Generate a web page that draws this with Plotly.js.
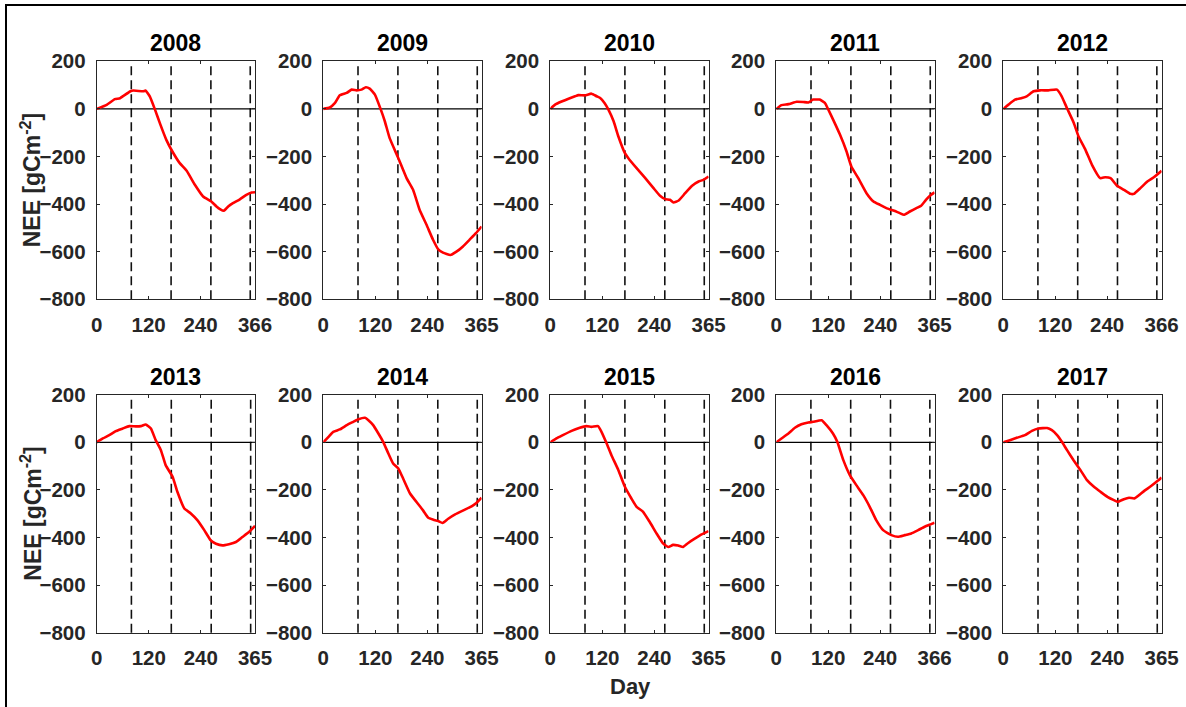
<!DOCTYPE html>
<html>
<head>
<meta charset="utf-8">
<script src="https://cdn.plot.ly/plotly-3.0.1.min.js"></script>
<style>html,body{margin:0;padding:0;background:#fff;}#chart{width:1186px;height:707px;}</style>
</head>
<body>
<div id="chart"></div>
<script>
// ---- Data ----
const years = ['2008','2009','2010','2011','2012','2013','2014','2015','2016','2017'];
const yearLength = [366,365,365,365,366,365,365,365,366,365];
const seasonDays = [80,172,264,355];
const yTicks = [-800,-600,-400,-200,0,200];

const day2008 = [0,23,42,54,77,85,108,113,123,135,146,161,175,192,208,227,246,265,277,285,294,304,315,331,346,358,366];
const nee2008 = [0,17,41,45,73,77,74,77,52,-4,-60,-130,-179,-228,-260,-319,-368,-389,-410,-421,-428,-410,-396,-380,-361,-351,-350];

const day2009 = [0,15,27,38,54,65,77,88,98,107,119,132,142,153,173,192,207,222,238,253,265,276,293,307,322,337,352,365];
const nee2009 = [0,6,25,57,67,81,78,81,91,85,60,0,-53,-123,-207,-291,-340,-424,-487,-550,-590,-604,-614,-600,-578,-550,-522,-494];

const day2010 = [0,11,26,42,57,65,80,95,107,115,125,134,146,157,172,180,199,219,238,253,265,276,284,296,311,327,342,353,365];
const nee2010 = [0,18,31,43,53,58,57,64,53,46,25,-3,-52,-116,-186,-207,-249,-291,-333,-365,-379,-382,-393,-385,-354,-323,-305,-298,-284];

const day2011 = [0,12,28,47,62,74,85,100,112,120,131,147,162,173,189,208,224,239,254,270,285,294,308,323,334,345,357,365];
const nee2011 = [0,16,20,30,29,27,39,39,25,-3,-45,-109,-179,-242,-291,-354,-389,-403,-417,-427,-438,-445,-431,-417,-407,-382,-361,-351];

const day2012 = [0,12,27,43,54,70,85,104,124,135,147,163,174,190,205,224,236,248,263,279,294,302,317,333,348,366];
const nee2012 = [0,18,39,46,53,74,78,78,81,53,4,-59,-116,-172,-235,-291,-287,-291,-323,-340,-357,-357,-333,-305,-287,-260];

const day2013 = [0,14,29,44,60,75,90,102,113,125,136,148,159,175,186,202,217,232,248,263,275,290,305,321,336,351,365];
const nee2013 = [0,16,30,47,58,68,67,68,75,58,9,-33,-96,-145,-208,-278,-299,-327,-369,-412,-426,-433,-428,-419,-398,-377,-351];

const day2014 = [0,12,23,38,54,69,81,96,104,115,127,138,150,161,173,184,200,215,230,242,254,265,275,288,304,323,342,353,365];
const nee2014 = [0,23,44,54,72,86,97,103,93,72,37,2,-47,-89,-110,-152,-215,-251,-286,-317,-325,-331,-339,-321,-303,-286,-269,-255,-233];

const day2015 = [0,14,29,49,68,83,95,110,118,130,141,157,172,187,199,214,229,245,260,272,283,295,306,318,333,349,365];
const nee2015 = [0,16,30,48,61,68,65,68,44,-5,-54,-117,-187,-236,-271,-292,-334,-383,-425,-440,-431,-434,-440,-423,-405,-387,-373];

const day2016 = [0,12,28,43,58,74,85,105,116,131,141,155,170,185,201,216,231,247,266,281,297,312,328,343,358,366];
const nee2016 = [0,16,37,61,76,83,86,93,72,37,2,-75,-138,-180,-222,-271,-327,-369,-390,-397,-390,-383,-369,-355,-344,-338];

const day2017 = [0,15,31,50,66,81,101,112,124,135,147,162,178,193,209,224,240,255,264,278,290,302,313,325,340,356,365];
const nee2017 = [0,9,19,30,48,58,60,51,30,2,-33,-75,-117,-159,-187,-208,-229,-243,-250,-239,-233,-236,-222,-204,-185,-162,-148];

const days = [day2008,day2009,day2010,day2011,day2012,day2013,day2014,day2015,day2016,day2017];
const nees = [nee2008,nee2009,nee2010,nee2011,nee2012,nee2013,nee2014,nee2015,nee2016,nee2017];

// ---- Layout geometry (pixels) ----
const W = 1186, H = 707;
const colLeft = [96.7, 323.3, 550.3, 776.3, 1003.3];
const colW = 158.3;
const rowTop = [61.3, 394.7];
const rowH = 238;
const px = v => v / W;
const py = v => 1 - v / H;

const FONT = 'Liberation Sans, Arial, Helvetica, sans-serif';
const AX = '#262626';

const traces = [];
const layout = {
  width: W, height: H,
  margin: {l:0, r:0, t:0, b:0},
  paper_bgcolor: '#ffffff',
  plot_bgcolor: '#ffffff',
  showlegend: false,
  font: {family: FONT, color: AX, size: 20, weight: 'bold'},
  shapes: [],
  annotations: []
};

years.forEach((yr, i) => {
  const r = Math.floor(i / 5), c = i % 5;
  const n = i + 1;
  const xa = n === 1 ? 'xaxis' : 'xaxis' + n;
  const ya = n === 1 ? 'yaxis' : 'yaxis' + n;
  const xr = n === 1 ? 'x' : 'x' + n;
  const yr_ = n === 1 ? 'y' : 'y' + n;
  const L = yearLength[i];

  layout[xa] = {
    domain: [px(colLeft[c]), px(colLeft[c] + colW)],
    anchor: yr_,
    range: [0, L],
    tickvals: [0, 120, 240, L],
    ticktext: ['0', '120', '240', String(L)],
    ticks: 'inside', ticklen: 3, tickwidth: 1, tickcolor: AX,
    showline: true, linecolor: AX, linewidth: 1, mirror: 'ticks',
    showgrid: false, zeroline: false,
    ticklabelstandoff: 7,
    tickfont: {family: FONT, size: 20.5, color: AX, weight: 'bold'},
    fixedrange: true
  };
  layout[ya] = {
    domain: [py(rowTop[r] + rowH), py(rowTop[r])],
    anchor: xr,
    range: [-800, 200],
    tickvals: yTicks,
    ticks: 'inside', ticklen: 3, tickwidth: 1, tickcolor: AX,
    showline: true, linecolor: AX, linewidth: 1, mirror: 'ticks',
    showgrid: false, zeroline: false,
    ticklabelstandoff: 6,
    tickfont: {family: FONT, size: 20.5, color: AX, weight: 'bold'},
    fixedrange: true
  };

  // season dashed lines
  seasonDays.forEach(d => {
    layout.shapes.push({
      type: 'line', xref: xr, yref: yr_ + ' domain',
      x0: d, x1: d, y0: 0, y1: 1,
      line: {color: '#111111', width: 1.6, dash: '9px,5px'},
      layer: 'below'
    });
  });
  // zero line
  layout.shapes.push({
    type: 'line', xref: xr + ' domain', yref: yr_,
    x0: 0, x1: 1, y0: 0, y1: 0,
    line: {color: '#000000', width: 1.2},
    layer: 'below'
  });

  traces.push({
    type: 'scatter', mode: 'lines',
    x: days[i], y: nees[i],
    xaxis: xr, yaxis: yr_,
    line: {color: '#ff0000', width: 2.6, shape: 'spline', smoothing: 0.4},
    hoverinfo: 'skip'
  });

  // panel title
  layout.annotations.push({
    xref: 'paper', yref: 'paper',
    x: px(colLeft[c] + colW / 2), y: py(rowTop[r] - 18),
    text: '<b>' + yr + '</b>', showarrow: false,
    xanchor: 'center', yanchor: 'middle',
    font: {family: FONT, size: 23, color: '#000000'}
  });
});

// y-axis titles
rowTop.forEach(t => {
  layout.annotations.push({
    xref: 'paper', yref: 'paper',
    x: px(31), y: py(t + rowH / 2),
    text: '<b>NEE [gCm<sup>-2</sup>]</b>', showarrow: false,
    textangle: -90, xanchor: 'center', yanchor: 'middle',
    font: {family: FONT, size: 23, color: AX}
  });
});

// x-axis title
layout.annotations.push({
  xref: 'paper', yref: 'paper',
  x: px(630), y: py(686),
  text: '<b>Day</b>', showarrow: false,
  xanchor: 'center', yanchor: 'middle',
  font: {family: FONT, size: 22, color: AX}
});

// outer frame
layout.shapes.push({
  type: 'rect', xref: 'paper', yref: 'paper',
  x0: px(6), x1: px(1200), y0: py(720), y1: py(5),
  line: {color: '#000000', width: 2}, fillcolor: 'rgba(0,0,0,0)',
  layer: 'above'
});

Plotly.newPlot('chart', traces, layout, {staticPlot: true, displayModeBar: false});
</script>
</body>
</html>
